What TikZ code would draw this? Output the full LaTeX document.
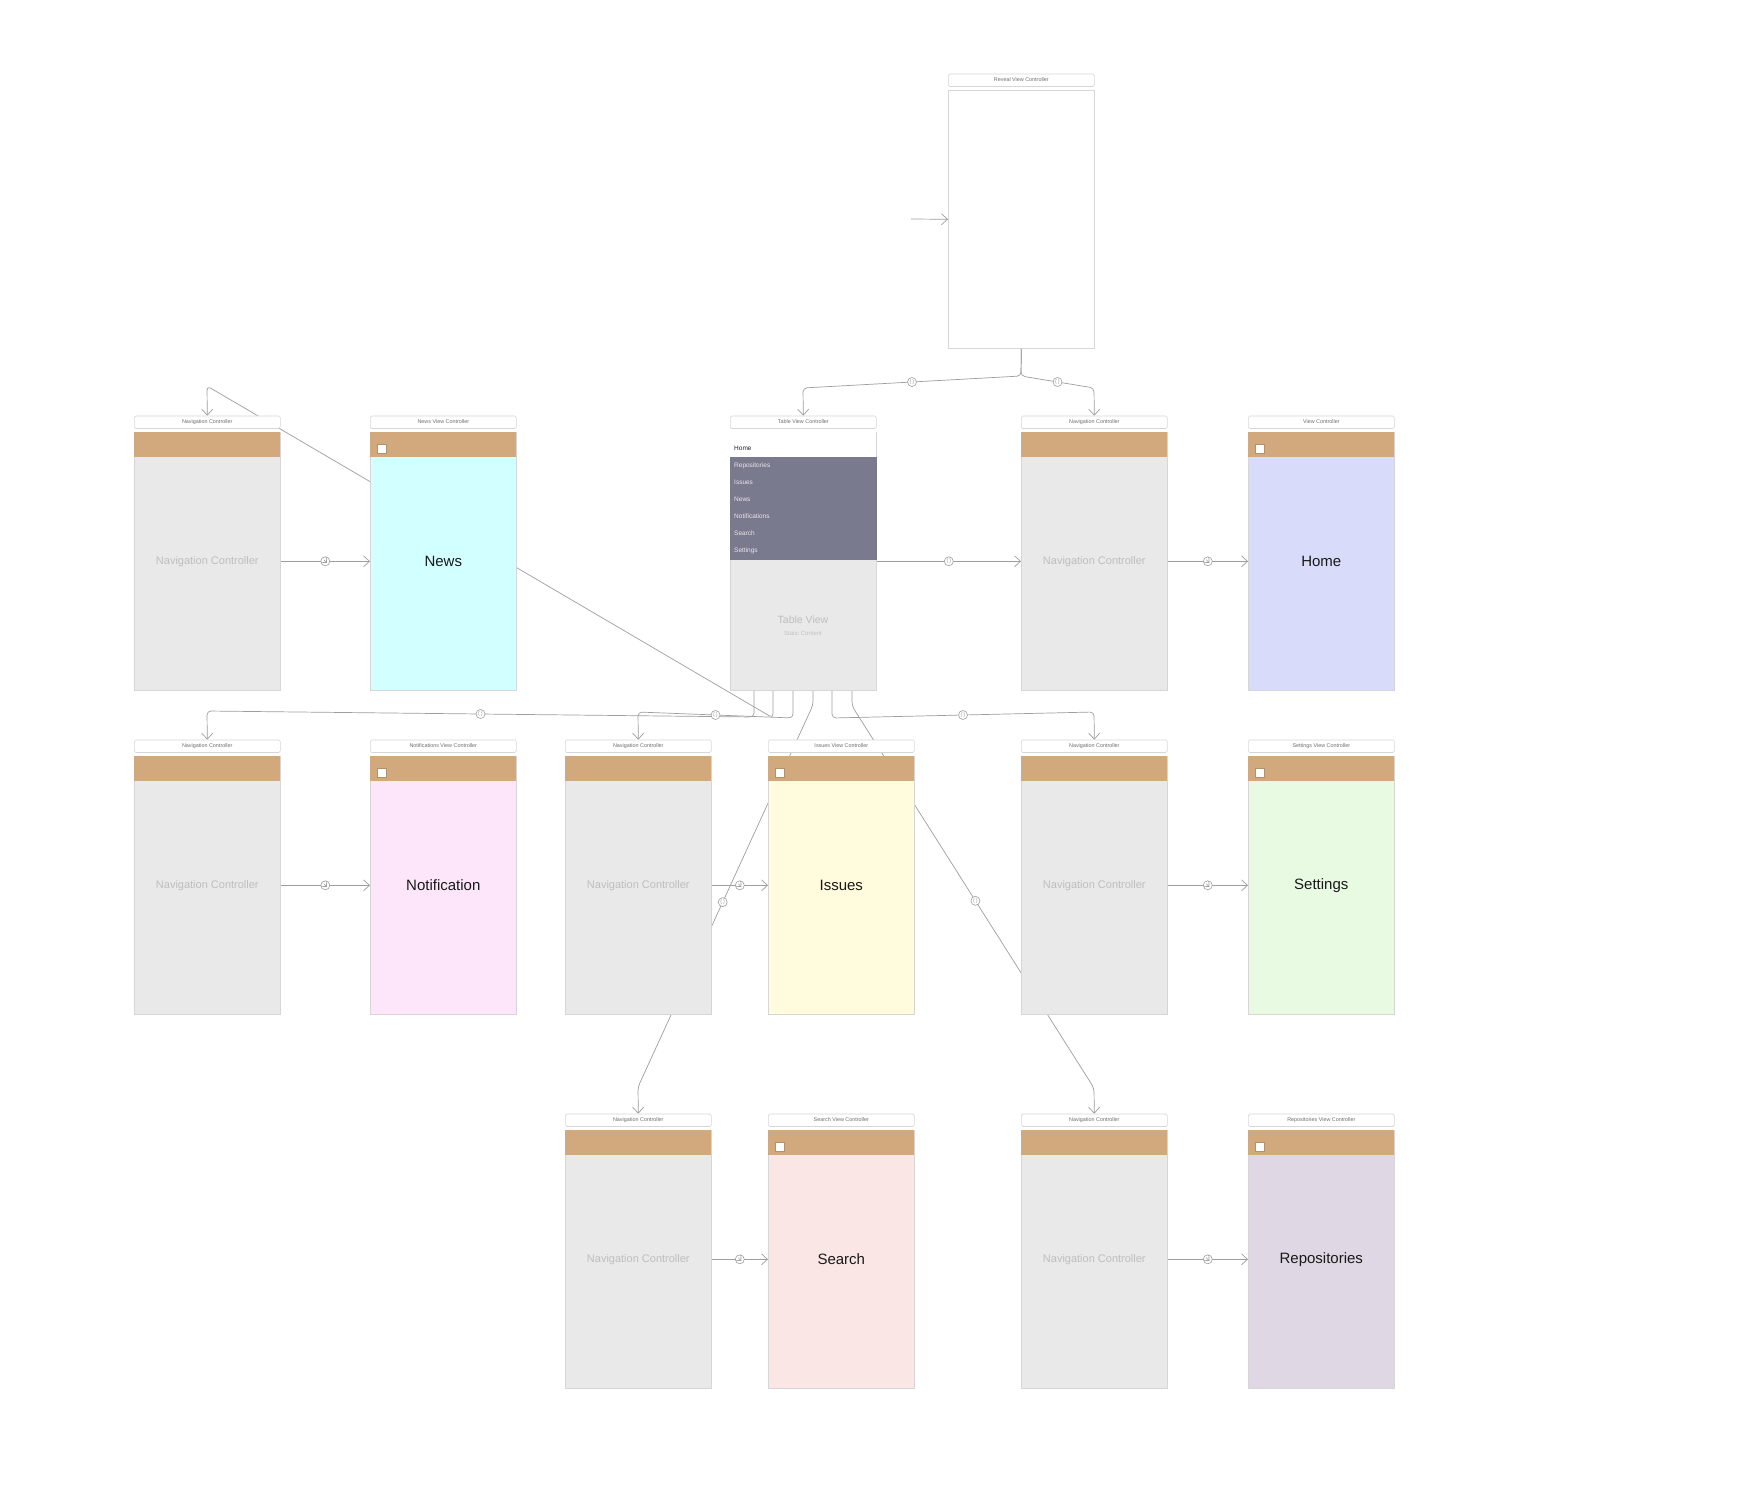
\documentclass[tikz,border=0pt]{standalone}
\usepackage{fontspec}
\setmainfont{Liberation Sans}
\usetikzlibrary{arrows.meta,calc}
\definecolor{hdrtan}{HTML}{D2A97C}
\definecolor{navgray}{HTML}{E9E9E9}
\definecolor{bordergray}{HTML}{D6D6D6}
\definecolor{linegray}{HTML}{9E9E9E}
\definecolor{navtext}{HTML}{BEBEBE}
\definecolor{titletext}{HTML}{6E6E6E}
\definecolor{newsbg}{HTML}{D2FFFF}
\definecolor{homebg}{HTML}{D9DBFA}
\definecolor{notifbg}{HTML}{FDE6FA}
\definecolor{issuesbg}{HTML}{FFFBDC}
\definecolor{settingsbg}{HTML}{E8FBE2}
\definecolor{searchbg}{HTML}{FBE6E6}
\definecolor{reposbg}{HTML}{E0D7E4}
\definecolor{tabledark}{HTML}{7A7A8E}
\definecolor{itemtext}{HTML}{E6E6EC}
\pgfdeclarelayer{bgwhite}
\pgfdeclarelayer{wires}
\pgfsetlayers{bgwhite,wires,main}
\newcommand\navfont{\fontsize{11}{13}\selectfont}
\newcommand\vcfont{\fontsize{15}{18}\selectfont}
\newcommand\ttlfont{\fontsize{5.4}{6}\selectfont}
\newcommand\itmfont{\fontsize{6.5}{7.5}\selectfont}
\tikzset{
  screen/.style={draw=bordergray, line width=0.6pt, minimum width=146pt, minimum height=258pt, inner sep=0pt, anchor=north west},
  titlebar/.style={draw=bordergray, fill=white, line width=0.6pt, rounded corners=1.5pt, minimum width=146pt, minimum height=12.5pt, inner sep=0pt, text height=3.9pt, text depth=1.1pt, font=\ttlfont, text=titletext},
  conn/.style={draw=linegray, line width=0.7pt, rounded corners=4pt},
  arr/.style={conn, -{Straight Barb[length=6pt,width=11pt,line width=0.7pt]}},
  relc/.style={circle, draw=linegray, fill=white, line width=0.6pt, minimum size=9pt, inner sep=0pt, font=\fontsize{5.5}{5.5}\selectfont, text=linegray},
  segc/.style={circle, draw=linegray, fill=white, line width=0.6pt, minimum size=9pt, inner sep=0pt,
    path picture={\draw[linegray, line width=0.5pt] ([shift={(-1.6pt,1.6pt)}]path picture bounding box.center) -- ([shift={(1.6pt,-1.6pt)}]path picture bounding box.center);}},
  itm/.style={anchor=west, inner sep=0pt, text height=4.7pt, text depth=1.4pt, font=\itmfont, text=itemtext}
}
\newcommand\navscreen[4]{%
  \node[screen, fill=navgray, text=navtext, font=\navfont] (#1) at (#2,#3) {Navigation Controller};
  \fill[hdrtan] (#1.north west) rectangle ++(146,25);
  \node[titlebar] (#1t) at ($(#1.north)+(0,-9.75)$) {#4};
}
\newcommand\vcscreen[6]{%
  \node[screen, fill=#5, text=black!90, font=\vcfont] (#1) at (#2,#3) {#6};
  \fill[hdrtan] (#1.north west) rectangle ++(146,25);
  \filldraw[fill=white, draw=hdrtan!85!black, line width=0.3pt] ($(#1.north west)+(7,12)$) rectangle ++(9,9);
  \node[titlebar] (#1t) at ($(#1.north)+(0,-9.75)$) {#4};
}
\begin{document}
\begin{tikzpicture}[x=1pt,y=-1pt]
\begin{pgfonlayer}{bgwhite}
\fill[white] (0,0) rectangle (1742,1490);
\end{pgfonlayer}
\path[use as bounding box] (0,0) rectangle (1742,1490);

% Reveal view controller
\node[screen, fill=white] (reveal) at (948,90) {};
\node[titlebar] (revealt) at ($(reveal.north)+(0,-9.75)$) {Reveal View Controller};

% Row 1
\navscreen{nava}{134}{432}{Navigation Controller}
\vcscreen{news}{370}{432}{News View Controller}{newsbg}{News}
\node[screen, fill=navgray] (table) at (730,432) {};
\fill[white] ($(table.north west)+(0.3,0.3)$) rectangle ($(table.north east)+(-0.3,25)$);
\fill[tabledark] ($(table.north west)+(0,25)$) rectangle ($(table.north east)+(0,128)$);
\node[titlebar] (tablet) at ($(table.north)+(0,-9.75)$) {Table View Controller};
\node[itm, text=black!85] (ihome) at (734,448.5) {Home};
\node[itm] (irepo) at (734,465.5) {Repositories};
\node[itm] (iissu) at (734,482.5) {Issues};
\node[itm] (inews) at (734,499.5) {News};
\node[itm] (inoti) at (734,516.5) {Notifications};
\node[itm] (isear) at (734,533.5) {Search};
\node[itm] (isett) at (734,550.5) {Settings};
\node[inner sep=0pt, font=\fontsize{10.5}{12}\selectfont, text=navtext] (tvlabel) at (803,619.5) {Table View};
\node[inner sep=0pt, font=\fontsize{6}{7}\selectfont, text=black!24] (tvsub) at (803,633) {Static Content};
\navscreen{navd}{1021}{432}{Navigation Controller}
\vcscreen{home}{1248}{432}{View Controller}{homebg}{Home}

% Row 2
\navscreen{navb}{134}{756}{Navigation Controller}
\vcscreen{notif}{370}{756}{Notifications View Controller}{notifbg}{Notification}
\navscreen{navc}{565}{756}{Navigation Controller}
\vcscreen{issues}{768}{756}{Issues View Controller}{issuesbg}{Issues}
\navscreen{nave}{1021}{756}{Navigation Controller}
\vcscreen{settings}{1248}{756}{Settings View Controller}{settingsbg}{Settings}

% Row 3
\navscreen{navf}{565}{1130}{Navigation Controller}
\vcscreen{search}{768}{1130}{Search View Controller}{searchbg}{Search}
\navscreen{navg}{1021}{1130}{Navigation Controller}
\vcscreen{repos}{1248}{1130}{Repositories View Controller}{reposbg}{Repositories}

\begin{pgfonlayer}{wires}
\coordinate (init) at (911,219);
\draw[arr] (init) -- (reveal.west);
\draw[arr] (reveal.south) -- (1021,376) -- node[relc] (r1) {(\,)} (803,388) -- (tablet.north);
\draw[arr] (reveal.south) -- (1021,376) -- node[relc] (r2) {(\,)} (1094,388) -- (navdt.north);
% row 1 horizontals
\draw[arr] (nava.east) -- node[segc] (s1) {} (news.west);
\draw[arr] (table.east) -- node[relc] (r3) {(\,)} (navd.west);
\draw[arr] (navd.east) -- node[segc] (s2) {} (home.west);
% from table cells
\draw[arr] ($(table.south west)+(43,0)$) -- (773,718) -- (207,386) -- (navat.north);
\draw[arr] ($(table.south west)+(24,0)$) -- (754,717) -- node[relc] (r4) {(\,)} (207,711) -- (navbt.north);
\draw[arr] ($(table.south west)+(63,0)$) -- (793,718) -- node[relc] (r5) {(\,)} (638,712) -- (navct.north);
\draw[arr] ($(table.south west)+(83,0)$) -- (813,705) -- node[relc, pos=0.516] (r6) {(\,)} (638,1087) -- (navft.north);
\draw[arr] ($(table.south west)+(102,0)$) -- (832,718) -- node[relc] (r7) {(\,)} (1094,712) -- (navet.north);
\draw[arr] ($(table.south west)+(122,0)$) -- (852,706) -- node[relc, pos=0.51] (r8) {(\,)} (1094,1088) -- (navgt.north);
% row 2 horizontals
\draw[arr] (navb.east) -- node[segc] (s3) {} (notif.west);
\draw[arr] (navc.east) -- node[segc] (s4) {} (issues.west);
\draw[arr] (nave.east) -- node[segc] (s5) {} (settings.west);
% row 3 horizontals
\draw[arr] (navf.east) -- node[segc] (s6) {} (search.west);
\draw[arr] (navg.east) -- node[segc] (s7) {} (repos.west);
\end{pgfonlayer}
\end{tikzpicture}
\end{document}
